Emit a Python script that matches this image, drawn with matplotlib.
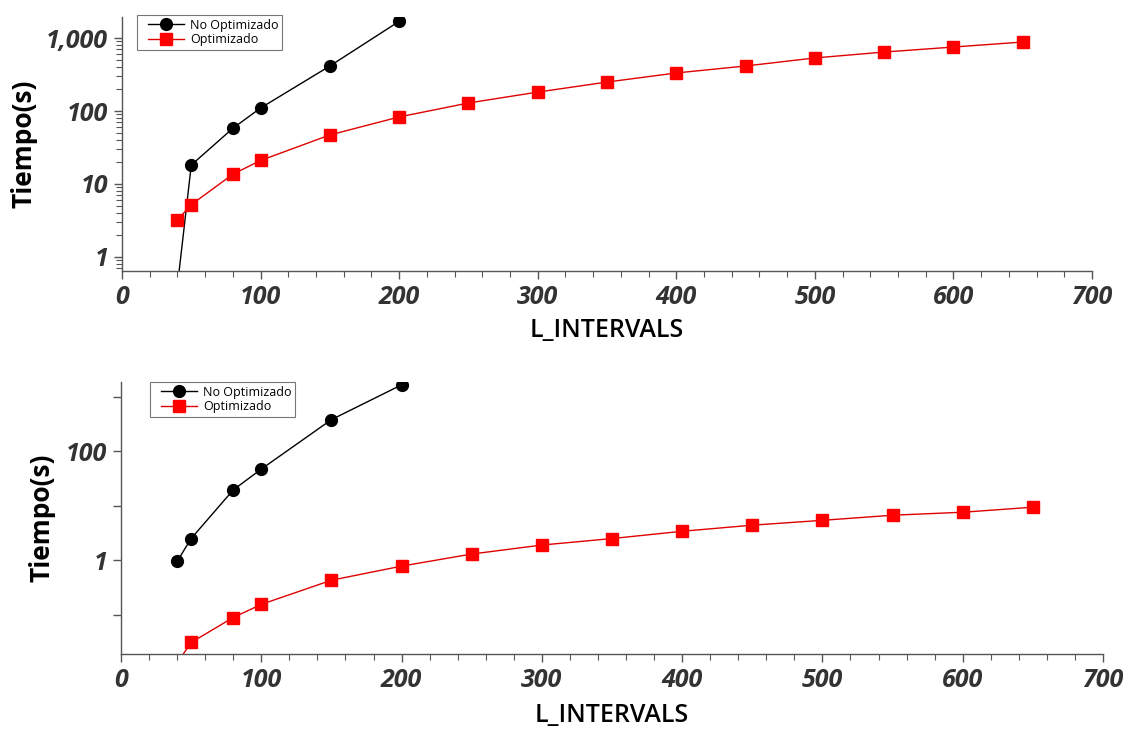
import matplotlib
matplotlib.use("Agg")
import matplotlib.pyplot as plt
from matplotlib.lines import Line2D
from matplotlib.legend_handler import HandlerLine2D
from matplotlib.ticker import FixedLocator, FuncFormatter, MultipleLocator, LogLocator, NullFormatter

# ---- data ----
x_no_top = [40, 50, 80, 100, 150, 200]
y_no_top = [0.4, 18.2, 58, 110, 415, 1700]
x_opt_top = [40, 50, 80, 100, 150, 200, 250, 300, 350, 400, 450, 500, 550, 600, 650]
y_opt_top = [3.2, 5.2, 13.6, 21, 47, 83, 129, 182, 250, 333, 415, 535, 645, 755, 885]

x_no_bot = [40, 50, 80, 100, 150, 200]
y_no_bot = [0.95, 2.5, 19.5, 47, 380, 1650]
x_opt_bot = [40, 50, 80, 100, 150, 200, 250, 300, 350, 400, 450, 500, 550, 600, 650]
y_opt_bot = [0.013, 0.031, 0.089, 0.155, 0.43, 0.78, 1.3, 1.9, 2.5, 3.4, 4.4, 5.4, 6.7, 7.6, 9.4]

series_labels = ["No Optimizado", "Optimizado"]
xlabel = "L_INTERVALS"
ylabel = "Tiempo(s)"
x_ticks = [0, 100, 200, 300, 400, 500, 600, 700]

W, H = 1133, 729
fig = plt.figure(figsize=(W / 100, H / 100), dpi=100)

spine_col = "#555555"


def style_axes(ax):
    for s in ["top", "right"]:
        ax.spines[s].set_visible(False)
    for s in ["left", "bottom"]:
        ax.spines[s].set_color(spine_col)
        ax.spines[s].set_linewidth(1.0)
    ax.xaxis.set_major_locator(FixedLocator(x_ticks))
    ax.xaxis.set_minor_locator(MultipleLocator(20))
    ax.tick_params(axis="both", which="major", direction="out", length=6, width=1, color=spine_col, pad=4)
    ax.tick_params(axis="both", which="minor", direction="out", length=4, width=0.8, color=spine_col)
    for lab in ax.get_xticklabels() + ax.get_yticklabels():
        lab.set_fontfamily("Open Sans")
        lab.set_fontstyle("italic")
        lab.set_fontweight("bold")
        lab.set_fontsize(18)
        lab.set_color("#333333")
    ax.set_xlabel(xlabel, family="Open Sans", weight="semibold", size=18, color="black", labelpad=2)
    ax.set_ylabel(ylabel, family="Open Sans", weight="bold", size=19, color="black")


def plot_series(ax, xn, yn, xo, yo):
    ax.plot(xn, yn, color="black", lw=1.0, marker="o", ms=8.5, mfc="black", mec="black",
            label=series_labels[0])
    ax.plot(xo, yo, color="#e00000", lw=1.0, marker="s", ms=8.5, mfc="#ff0000", mec="#ff0000",
            label=series_labels[1])


def add_legend(ax, x_px, y_px):
    leg = ax.legend(loc="upper left", bbox_to_anchor=(x_px / W, 1 - y_px / H),
                    bbox_transform=fig.transFigure, borderaxespad=0, fancybox=False,
                    edgecolor="#777777", framealpha=1, prop=dict(family="Open Sans", size=9),
                    handlelength=3.46, labelspacing=0.1, borderpad=0.3, handletextpad=0.48,
                    handler_map={Line2D: HandlerLine2D(xpad=0.58)})
    leg.get_frame().set_linewidth(0.8)
    return leg


# ---- top chart ----
ax1 = fig.add_axes([122 / W, 1 - 271 / H, (1092 - 122) / W, (271 - 17) / H])
plot_series(ax1, x_no_top, y_no_top, x_opt_top, y_opt_top)
ax1.set_yscale("log")
ax1.set_xlim(0, 700)
ax1.set_ylim(0.64, 1950)
ax1.yaxis.set_major_locator(FixedLocator([1, 10, 100, 1000]))
ax1.yaxis.set_major_formatter(FuncFormatter(lambda v, p: f"{int(round(v)):,}"))
ax1.yaxis.set_minor_locator(LogLocator(base=10, subs=range(2, 10)))
ax1.yaxis.set_minor_formatter(NullFormatter())
style_axes(ax1)
ax1.yaxis.set_label_coords((38 - 122) / (1092 - 122), 0.5)
ax1.xaxis.set_label_coords(0.5, -0.185)
add_legend(ax1, 137, 15)

# ---- bottom chart ----
ax2 = fig.add_axes([121 / W, 1 - 654 / H, (1103 - 121) / W, (654 - 382) / H])
plot_series(ax2, x_no_bot, y_no_bot, x_opt_bot, y_opt_bot)
ax2.set_yscale("log")
ax2.set_xlim(0, 700)
ax2.set_ylim(10 ** -1.72, 10 ** 3.27)
ax2.yaxis.set_major_locator(FixedLocator([1, 100]))
ax2.yaxis.set_major_formatter(FuncFormatter(lambda v, p: f"{int(round(v)):,}"))
ax2.yaxis.set_minor_locator(FixedLocator([0.1, 10, 1000]))
ax2.yaxis.set_minor_formatter(NullFormatter())
style_axes(ax2)
ax2.tick_params(axis="y", which="minor", length=6, width=1)
ax2.yaxis.set_label_coords((55 - 121) / (1103 - 121), 0.5)
ax2.xaxis.set_label_coords(0.5, -0.18)
add_legend(ax2, 150, 382)

fig.savefig("out.png", dpi=100)
